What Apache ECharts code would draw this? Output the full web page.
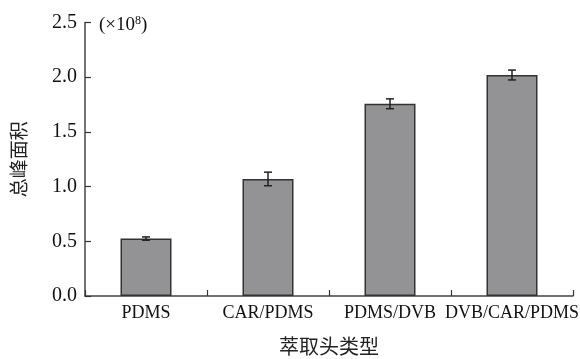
<!DOCTYPE html>
<html>
<head>
<meta charset="utf-8">
<script src="https://cdn.jsdelivr.net/npm/echarts@6/dist/echarts.min.js"></script>
<style>html,body{margin:0;padding:0;background:#fff}#c{width:580px;height:359px}</style>
</head>
<body>
<div id="c"></div>
<script>
var categories = ['PDMS', 'CAR/PDMS', 'PDMS/DVB', 'DVB/CAR/PDMS'];
var values = [0.525, 1.07, 1.757, 2.02];
var errors = [0.015, 0.062, 0.045, 0.045];
var yTicks = ['0.0', '0.5', '1.0', '1.5', '2.0', '2.5'];

var serif = '"Liberation Serif", "Times New Roman", serif';
var cjk = '"Noto Sans CJK SC", sans-serif';
var chart = echarts.init(document.getElementById('c'));
chart.setOption({
  animation: false,
  grid: { left: 85, right: 7, top: 22.5, bottom: 63, containLabel: false, outerBoundsMode: 'none' },
  xAxis: {
    type: 'category',
    data: categories,
    name: '萃取头类型',
    nameLocation: 'middle',
    nameGap: 40,
    nameTextStyle: { fontFamily: cjk, fontSize: 20, color: '#222' },
    axisLine: { lineStyle: { color: '#444', width: 1.5 } },
    axisTick: { show: true, inside: true, interval: 0, length: 6, lineStyle: { color: '#333', width: 1.2 } },
    axisLabel: { fontFamily: serif, fontSize: 18, color: '#111', margin: 8, interval: 0, hideOverlap: false }
  },
  yAxis: {
    type: 'value',
    min: 0, max: 2.5, interval: 0.5,
    name: '总峰面积',
    nameLocation: 'middle',
    nameRotate: 90,
    nameGap: 57,
    nameTextStyle: { fontFamily: cjk, fontSize: 19, color: '#222' },
    axisLine: { show: true, lineStyle: { color: '#444', width: 1.5 } },
    axisTick: { show: true, inside: true, length: 6, lineStyle: { color: '#333', width: 1.2 } },
    splitLine: { show: false },
    axisLabel: {
      fontFamily: serif, fontSize: 20, color: '#111', margin: 8,
      formatter: function (v) { return yTicks[Math.round(v / 0.5)]; }
    }
  },
  graphic: [{
    type: 'text', left: 99, top: 15,
    style: {
      fontFamily: serif, fontSize: 19,
      text: '{n|(×10}{sup|8}{n|)}',
      rich: {
        n: { fontFamily: serif, fontSize: 19, fill: '#111' },
        sup: { fontFamily: serif, fontSize: 12, fill: '#111', verticalAlign: 'top', padding: [0, 0, 8, 0] }
      }
    }
  }],
  series: [{
    type: 'bar',
    data: values,
    barWidth: 51,
    itemStyle: { color: '#939396', borderColor: '#333', borderWidth: 1.5 }
  }, {
    type: 'custom',
    data: values.map(function (v, i) { return [i, v - errors[i], v + errors[i]]; }),
    renderItem: function (params, api) {
      var lo = api.coord([api.value(0), api.value(1)]);
      var hi = api.coord([api.value(0), api.value(2)]);
      var x = lo[0], w = 4;
      var st = { stroke: '#222', lineWidth: 1.5 };
      return { type: 'group', children: [
        { type: 'line', shape: { x1: x, y1: lo[1], x2: x, y2: hi[1] }, style: st },
        { type: 'line', shape: { x1: x - w, y1: lo[1], x2: x + w, y2: lo[1] }, style: st },
        { type: 'line', shape: { x1: x - w, y1: hi[1], x2: x + w, y2: hi[1] }, style: st }
      ]};
    },
    z: 10
  }]
});
</script>
</body>
</html>
